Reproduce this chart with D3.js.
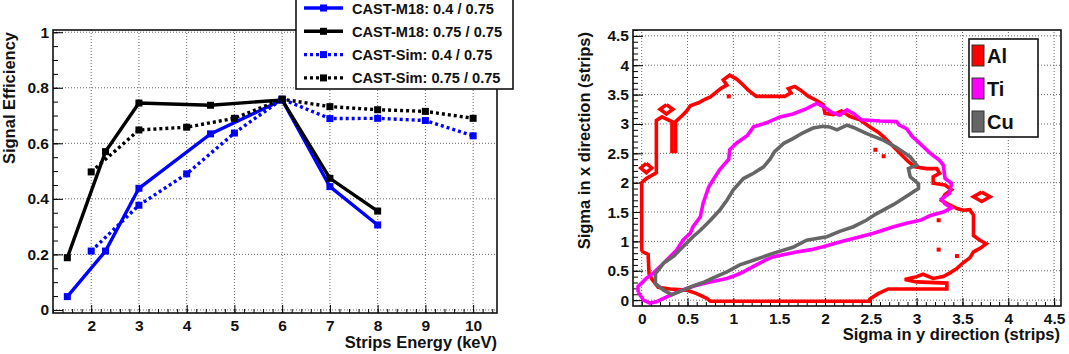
<!DOCTYPE html>
<html>
<head>
<meta charset="utf-8">
<script src="https://cdn.jsdelivr.net/npm/d3@7"></script>
<style>
  body { margin: 0; background: #fff; }
  text { font-family: "Liberation Sans", Arial, sans-serif; font-weight: bold; }
</style>
</head>
<body>
<div id="chart"></div>
<script>
// ---- left panel: signal efficiency vs energy ----
let energyM18 = [1.5, 2.3, 3, 4.5, 6, 7, 8];
let effM18_040 = [0.048, 0.212, 0.438, 0.634, 0.756, 0.444, 0.306];
let effM18_075 = [0.188, 0.570, 0.745, 0.737, 0.756, 0.474, 0.356];
let energySim = [2, 3, 4, 5, 6, 7, 8, 9, 10];
let effSim_040 = [0.212, 0.377, 0.490, 0.637, 0.759, 0.689, 0.690, 0.682, 0.627];
let effSim_075 = [0.497, 0.648, 0.658, 0.690, 0.759, 0.732, 0.721, 0.715, 0.690];
let seriesNames = ["CAST-M18: 0.4 / 0.75", "CAST-M18: 0.75 / 0.75",
  "CAST-Sim: 0.4 / 0.75", "CAST-Sim: 0.75 / 0.75"];
let xTicksL = [2, 3, 4, 5, 6, 7, 8, 9, 10];
let yTicksL = [0, 0.2, 0.4, 0.6, 0.8, 1];

// ---- right panel: contours of sigma x vs sigma y ----
let targetNames = ["Al", "Ti", "Cu"];
let alContour = [
  [0.00, 0.83], [0.00, 2.00], [0.05, 2.07], [0.16, 2.17], [0.16, 3.06], [0.22, 3.12],
  [0.33, 3.04], [0.33, 2.53], [0.37, 2.53], [0.37, 3.04],
  [0.44, 3.14], [0.49, 3.22], [0.53, 3.31], [0.62, 3.36], [0.69, 3.42], [0.75, 3.46],
  [0.82, 3.55], [0.87, 3.61], [0.93, 3.66], [0.89, 3.75], [0.96, 3.83], [1.04, 3.76],
  [1.11, 3.66], [1.16, 3.58], [1.25, 3.47], [1.56, 3.47], [1.63, 3.53], [1.60, 3.60],
  [1.67, 3.64], [1.73, 3.58], [1.82, 3.47], [1.91, 3.40], [1.98, 3.33], [2.00, 3.18],
  [2.09, 3.16], [2.18, 3.22], [2.27, 3.13], [2.38, 3.07], [2.49, 2.95], [2.58, 2.86],
  [2.64, 2.78], [2.71, 2.67], [2.78, 2.56], [2.85, 2.45], [2.91, 2.36], [2.98, 2.27],
  [3.11, 2.24], [3.22, 2.24], [3.25, 2.16], [3.18, 2.10], [3.18, 1.99], [3.31, 1.96],
  [3.38, 1.88], [3.31, 1.80], [3.27, 1.70], [3.36, 1.62], [3.44, 1.56], [3.51, 1.53],
  [3.58, 1.54], [3.62, 1.45], [3.62, 1.10], [3.69, 1.02], [3.76, 0.96], [3.69, 0.88],
  [3.62, 0.82], [3.58, 0.72], [3.51, 0.64], [3.44, 0.54], [3.36, 0.46], [3.29, 0.40],
  [3.18, 0.37], [3.07, 0.44], [3.00, 0.40], [2.87, 0.35], [3.00, 0.31], [3.33, 0.29],
  [3.33, 0.19], [2.69, 0.19], [2.58, 0.11], [2.49, 0.02], [2.49, -0.02], [0.75, -0.02],
  [0.71, 0.03], [0.60, 0.11], [0.49, 0.17], [0.31, 0.19], [0.18, 0.22], [0.11, 0.36],
  [0.08, 0.45], [0.07, 0.78], [0.00, 0.83]
];
let alIslands = [
  [[0.05, 2.33], [0.11, 2.25], [0.05, 2.17], [-0.01, 2.25], [0.05, 2.33]],
  [[0.27, 3.33], [0.34, 3.25], [0.27, 3.17], [0.20, 3.25], [0.27, 3.33]],
  [[3.71, 1.84], [3.80, 1.76], [3.71, 1.68], [3.62, 1.76], [3.71, 1.84]]
];
let alDots = [[0.95, 3.47], [2.55, 2.56], [2.64, 2.45], [3.24, 1.36], [3.24, 0.86], [3.44, 0.75]];
let tiContour = [
  [-0.04, 0.14], [0.02, 0.00], [0.09, -0.05], [0.16, -0.03], [0.25, 0.04], [0.35, 0.11],
  [0.49, 0.20], [0.62, 0.26], [0.75, 0.31], [0.93, 0.37], [1.02, 0.42], [1.11, 0.48],
  [1.25, 0.60], [1.35, 0.68], [1.44, 0.74], [1.69, 0.82], [1.85, 0.86], [1.98, 0.91],
  [2.16, 0.99], [2.31, 1.05], [2.53, 1.14], [2.75, 1.25], [2.89, 1.31], [3.04, 1.36],
  [3.15, 1.44], [3.29, 1.50], [3.38, 1.57], [3.31, 1.64], [3.27, 1.72], [3.36, 1.82],
  [3.38, 1.99], [3.31, 2.07], [3.29, 2.30], [3.25, 2.38], [3.15, 2.50], [3.04, 2.66],
  [2.95, 2.79], [2.89, 2.92], [2.81, 2.98], [2.78, 3.04], [2.60, 3.05], [2.40, 3.07],
  [2.31, 3.18], [2.24, 3.24], [2.16, 3.15], [2.07, 3.20], [1.98, 3.30], [1.91, 3.35],
  [1.80, 3.26], [1.65, 3.17], [1.51, 3.12], [1.36, 3.02], [1.22, 2.95], [1.15, 2.80],
  [1.04, 2.68], [0.96, 2.56], [0.95, 2.40], [0.85, 2.22], [0.78, 2.05], [0.73, 1.92],
  [0.67, 1.65], [0.64, 1.42], [0.56, 1.25], [0.53, 1.14], [0.45, 1.02], [0.38, 0.85],
  [0.27, 0.68], [0.20, 0.57], [0.12, 0.45], [0.05, 0.37], [-0.04, 0.23], [-0.04, 0.14]
];
let cuContour = [
  [0.15, 0.45], [0.15, 0.28], [0.24, 0.17], [0.33, 0.09], [0.45, 0.17], [0.56, 0.24],
  [0.67, 0.30], [0.78, 0.38], [0.93, 0.48], [1.07, 0.60], [1.22, 0.68], [1.44, 0.80],
  [1.65, 0.90], [1.80, 1.02], [2.02, 1.08], [2.16, 1.17], [2.31, 1.25], [2.45, 1.36],
  [2.56, 1.47], [2.75, 1.63], [2.89, 1.77], [3.02, 1.90], [3.02, 1.98], [2.93, 2.10],
  [2.91, 2.24], [3.00, 2.30], [2.93, 2.44], [2.78, 2.60], [2.64, 2.72], [2.45, 2.84],
  [2.31, 2.94], [2.24, 2.98], [2.13, 2.90], [2.05, 2.95], [1.98, 2.96], [1.87, 2.93],
  [1.76, 2.85], [1.65, 2.75], [1.55, 2.67], [1.45, 2.53], [1.40, 2.40], [1.33, 2.27],
  [1.22, 2.16], [1.11, 2.07], [1.00, 1.88], [0.93, 1.70], [0.85, 1.53], [0.75, 1.36],
  [0.64, 1.19], [0.56, 1.08], [0.45, 0.91], [0.35, 0.75], [0.24, 0.63], [0.15, 0.45]
];
let xTicksR = [0, 0.5, 1, 1.5, 2, 2.5, 3, 3.5, 4, 4.5];
let yTicksR = [0, 0.5, 1, 1.5, 2, 2.5, 3, 3.5, 4, 4.5];

let svg = d3.select("#chart").append("svg")
  .attr("width", 1069)
  .attr("height", 354);
svg.append("rect").attr("width", 1069).attr("height", 354).attr("fill", "white");

//draws grid, ticks, labels and frame for one panel
function drawFrame(g, x, y, xMajor, yMajor, xMinor, yMinor, fmt) {
  let [x0, x1] = x.range(), [y0, y1] = y.range();
  let grid = g.append("g").attr("stroke", "#666").attr("stroke-width", 1)
    .attr("stroke-dasharray", "1,2");
  grid.selectAll(".gx").data(xMajor).enter().append("line")
    .attr("x1", d => x(d)).attr("x2", d => x(d)).attr("y1", y0).attr("y2", y1);
  grid.selectAll(".gy").data(yMajor).enter().append("line")
    .attr("y1", d => y(d)).attr("y2", d => y(d)).attr("x1", x0).attr("x2", x1);

  g.append("g").attr("transform", "translate(" + x0 + ",0)")
    .call(d3.axisLeft(y).tickValues(yMinor).tickSize(-5).tickFormat(""))
    .call(a => a.select(".domain").remove());
  let ya = g.append("g").attr("transform", "translate(" + x0 + ",0)")
    .call(d3.axisLeft(y).tickValues(yMajor).tickSize(-10).tickPadding(4).tickFormat(fmt))
    .call(a => a.select(".domain").remove());
  ya.selectAll("text").attr("font-size", 15.5).attr("font-family", null).attr("fill", "#111");

  g.append("g").attr("transform", "translate(0," + y0 + ")")
    .call(d3.axisBottom(x).tickValues(xMinor).tickSize(-4).tickFormat(""))
    .call(a => a.select(".domain").remove());
  let xa = g.append("g").attr("transform", "translate(0," + y0 + ")")
    .call(d3.axisBottom(x).tickValues(xMajor).tickSize(-8).tickPadding(7).tickFormat(fmt))
    .call(a => a.select(".domain").remove());
  xa.selectAll("text").attr("font-size", 15.5).attr("font-family", null).attr("fill", "#111");

  g.append("rect").attr("x", x0).attr("y", y1).attr("width", x1 - x0).attr("height", y0 - y1)
    .attr("fill", "none").attr("stroke", "#111").attr("stroke-width", 1.6);
}

function stepRange(a, b, s) {
  return d3.range(Math.round((b - a) / s) + 1).map(i => +(a + i * s).toFixed(3));
}

let fmt = d3.format("~g");

// ============ left panel ============
let xL = d3.scaleLinear().domain([1.2, 10.5]).range([53, 497]);
let yL = d3.scaleLinear().domain([-0.011, 1.008]).range([313, 30]);
let gL = svg.append("g");
drawFrame(gL, xL, yL, xTicksL, yTicksL, stepRange(1.2, 10.4, 0.2), stepRange(0, 1, 0.05), fmt);

let series = [
  {name: seriesNames[0], xs: energyM18, ys: effM18_040, color: "#0000ff", dash: null},
  {name: seriesNames[1], xs: energyM18, ys: effM18_075, color: "#000000", dash: null},
  {name: seriesNames[2], xs: energySim, ys: effSim_040, color: "#0000ff", dash: "3,3"},
  {name: seriesNames[3], xs: energySim, ys: effSim_075, color: "#000000", dash: "3,3"}
];
let lineL = d3.line().x(d => xL(d[0])).y(d => yL(d[1]));
series.forEach(s => {
  let pts = s.xs.map((v, i) => [v, s.ys[i]]);
  gL.append("path").datum(pts)
    .attr("d", lineL)
    .attr("fill", "none")
    .attr("stroke", s.color)
    .attr("stroke-width", 3.4)
    .attr("stroke-dasharray", s.dash);
  gL.selectAll(null).data(pts).enter().append("rect")
    .attr("x", d => xL(d[0]) - 3.5).attr("y", d => yL(d[1]) - 3.5)
    .attr("width", 7).attr("height", 7)
    .attr("fill", s.color);
});

//legend
let legL = gL.append("g");
legL.append("rect").attr("x", 296).attr("y", -4).attr("width", 217).attr("height", 93)
  .attr("fill", "white").attr("stroke", "#111").attr("stroke-width", 1.6);
series.forEach((s, i) => {
  let ly = 8 + i * 23.3;
  legL.append("line").attr("x1", 304).attr("x2", 343).attr("y1", ly).attr("y2", ly)
    .attr("stroke", s.color).attr("stroke-width", 3.4).attr("stroke-dasharray", s.dash);
  legL.append("rect").attr("x", 320).attr("y", ly - 3.5).attr("width", 7).attr("height", 7)
    .attr("fill", s.color);
  legL.append("text").attr("x", 352).attr("y", ly + 5.5).attr("font-size", 14.6)
    .attr("fill", "#111").text(s.name);
});

gL.append("text").attr("x", 497).attr("y", 348).attr("text-anchor", "end")
  .attr("font-size", 16.5).attr("fill", "#111").text("Strips Energy (keV)");
gL.append("text").attr("transform", "translate(15,32) rotate(-90)").attr("text-anchor", "end")
  .attr("font-size", 16.5).attr("fill", "#111").text("Signal Efficiency");

// ============ right panel ============
let xR = d3.scaleLinear().domain([-0.095, 4.575]).range([633, 1061]);
let yR = d3.scaleLinear().domain([-0.1, 4.6]).range([306, 30]);
let gR = svg.append("g");
drawFrame(gR, xR, yR, xTicksR, yTicksR, stepRange(-0.0, 4.5, 0.1), stepRange(0, 4.6, 0.1), fmt);

svg.append("clipPath").attr("id", "clipR").append("rect")
  .attr("x", 633).attr("y", 30).attr("width", 428).attr("height", 276);
let plotR = gR.append("g").attr("clip-path", "url(#clipR)");
let lineR = d3.line().x(d => xR(d[0])).y(d => yR(d[1]));

let contours = [
  {name: targetNames[0], color: "#ff0000", paths: [alContour].concat(alIslands)},
  {name: targetNames[1], color: "#ff00ff", paths: [tiContour]},
  {name: targetNames[2], color: "#666666", paths: [cuContour]}
];
contours.forEach(c => {
  c.paths.forEach(p => {
    plotR.append("path").datum(p)
      .attr("d", lineR)
      .attr("fill", "none")
      .attr("stroke", c.color)
      .attr("stroke-width", 3.6)
      .attr("stroke-linejoin", "miter");
  });
});
plotR.selectAll(".dot").data(alDots).enter().append("rect")
  .attr("x", d => xR(d[0]) - 2).attr("y", d => yR(d[1]) - 2)
  .attr("width", 4).attr("height", 4)
  .attr("fill", "#ff0000");

//legend
let legR = gR.append("g");
legR.append("rect").attr("x", 969).attr("y", 39).attr("width", 69).attr("height", 98)
  .attr("fill", "white").attr("stroke", "#111").attr("stroke-width", 1.6);
contours.forEach((c, i) => {
  let ly = 45 + i * 33;
  legR.append("rect").attr("x", 972).attr("y", ly).attr("width", 12).attr("height", 21)
    .attr("fill", c.color).attr("stroke", "#333").attr("stroke-width", 1);
  legR.append("text").attr("x", 987).attr("y", ly + 18).attr("font-size", 20)
    .attr("fill", "#111").text(c.name);
});

gR.append("text").attr("x", 1060).attr("y", 340).attr("text-anchor", "end")
  .attr("font-size", 16.5).attr("fill", "#111").text("Sigma in y direction (strips)");
gR.append("text").attr("transform", "translate(590,32) rotate(-90)").attr("text-anchor", "end")
  .attr("font-size", 16.5).attr("fill", "#111").text("Sigma in x direction (strips)");
</script>
</body>
</html>
